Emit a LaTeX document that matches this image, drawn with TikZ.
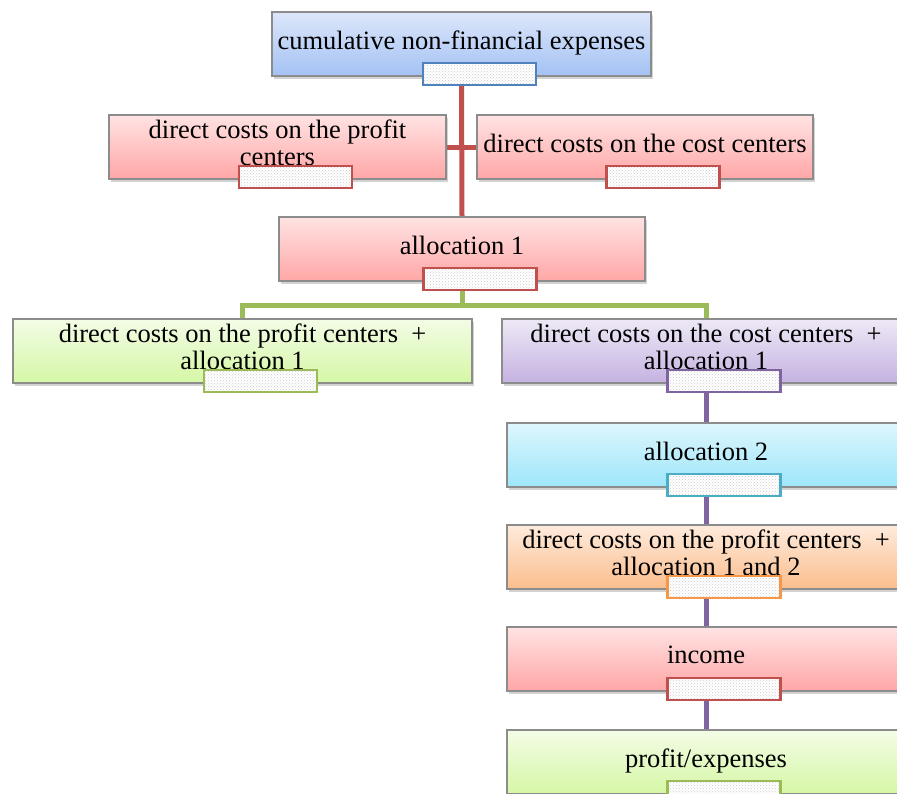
\documentclass[tikz,border=0pt]{standalone}
\usepackage{fontspec}
\setmainfont{Liberation Serif}
\usetikzlibrary{shadows,patterns,backgrounds,positioning}

\definecolor{box edge}{HTML}{8C8C8C}
\definecolor{red line}{HTML}{C0504D}
\definecolor{green line}{HTML}{9BBB59}
\definecolor{purple line}{HTML}{8064A2}
\definecolor{cyan line}{HTML}{4BACC6}
\definecolor{orange line}{HTML}{F79646}
\definecolor{blue line}{HTML}{4F81BD}
\definecolor{blue top}{HTML}{DCE6FA}
\definecolor{blue bottom}{HTML}{A4C2F4}
\definecolor{red top}{HTML}{FFE3E3}
\definecolor{red bottom}{HTML}{FFA6A6}
\definecolor{green top}{HTML}{F3FCE6}
\definecolor{green bottom}{HTML}{D5F7A5}
\definecolor{purple top}{HTML}{EEE9F6}
\definecolor{purple bottom}{HTML}{C5B2E1}
\definecolor{cyan top}{HTML}{DDF6FD}
\definecolor{cyan bottom}{HTML}{9DE6FA}
\definecolor{orange top}{HTML}{FEEBDC}
\definecolor{orange bottom}{HTML}{FBBD8C}

\tikzset{
  stepbox/.style={draw=box edge, line width=1.2pt, minimum height=64pt, inner sep=0pt,
    align=center, font=\fontsize{26.5}{27}\selectfont,
    execute at end node={\rule[-8pt]{0pt}{0pt}},
    top color=#1 top, bottom color=#1 bottom,
    drop shadow={shadow xshift=1.5pt, shadow yshift=-2.5pt, opacity=0.35}},
  tag/.style={draw=#1, line width=2.2pt, minimum width=113pt, minimum height=22pt,
    inner sep=0pt, preaction={fill=white}, pattern=crosshatch dots, pattern color=black!20}
  }
\tikzstyle{link} = [draw, line width=5pt, -]

\begin{document}
\begin{tikzpicture}[x=1pt, y=-1pt]
    \clip (0,0) rectangle (897,793);

    % The boxes of the left part
    \node[stepbox=blue, minimum width=379pt] (total) at (461.5,44) {cumulative non-financial expenses};
    \node[stepbox=red, minimum width=337pt] (profitdirect) at (277.5,147) {direct costs on the profit\\centers};
    \node[stepbox=red, minimum width=336pt] (costdirect) at (645,147) {direct costs on the cost centers};
    \node[stepbox=red, minimum width=366pt] (alloc1) at (462,249) {allocation 1};
    \node[stepbox=green, minimum width=459pt] (profitsum) at (242.5,351) {direct costs on the profit centers\ \ +\\allocation 1};

    % The chain on the right
    \node[stepbox=purple, minimum width=408pt] (costsum) at (706,351) {direct costs on the cost centers\ \ +\\allocation 1};
    \node[stepbox=cyan, minimum width=398pt] (alloc2) at (706,455) {allocation 2};
    \node[stepbox=orange, minimum width=398pt] (profitall) at (706,557) {direct costs on the profit centers\ \ +\\allocation 1 and 2};
    \node[stepbox=red, minimum width=398pt] (income) at (706,659) {income};
    \node[stepbox=green, minimum width=398pt] (result) at (706,762) {profit/expenses};

    % The small tags under the text
    \foreach \name/\col in {total/blue line, profitdirect/red line, costdirect/red line,
        alloc1/red line, profitsum/green line, costsum/purple line, alloc2/cyan line,
        profitall/orange line, income/red line, result/green line}
      \node[tag=\col] (\name tag) at ([xshift=18pt,yshift=3pt]\name.south) {};

    \begin{scope}[on background layer]
      % The connections
      \path[link, red line] (total.south) -- (alloc1.north);
      \path[link, red line] (profitdirect.east) -- (costdirect.west);
      \path[link, green line] (alloc1.south) -- ++(0,24) -| (profitsum.north);
      \path[link, green line] (alloc1.south) -- ++(0,24) -| (costsum.north);
      \foreach \source/\sink in {costsum/alloc2, alloc2/profitall, profitall/income, income/result}
        \path[link, purple line] (\source.south) -- (\sink.north);
    \end{scope}
\end{tikzpicture}
\end{document}
